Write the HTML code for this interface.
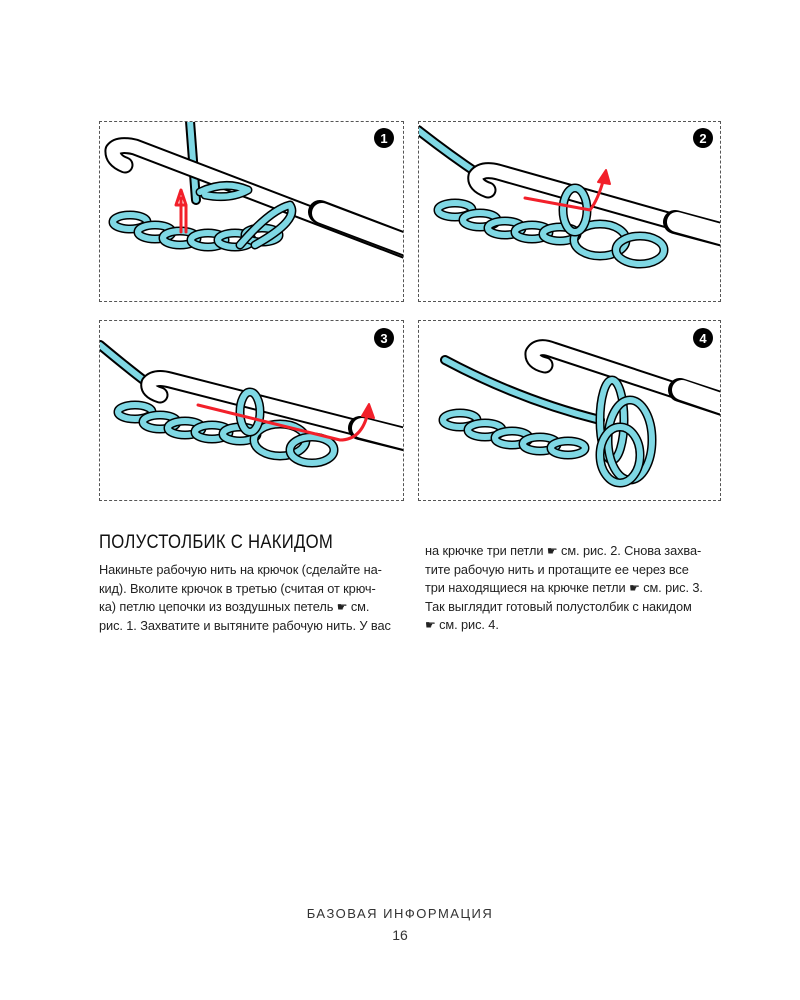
<!DOCTYPE html>
<html><head><meta charset="utf-8"><style>
body{margin:0;background:#fff;width:800px;height:1000px;position:relative;font-family:"Liberation Sans",sans-serif;overflow:hidden}
.p{position:absolute;border:1.5px dashed #555;box-sizing:border-box}
svg{position:absolute;left:0;top:0}
.t{position:absolute;font-size:12.8px;line-height:18.6px;color:#222;white-space:nowrap;letter-spacing:-0.1px}
h1{position:absolute;left:99px;top:532px;margin:0;font-weight:normal;font-size:19px;letter-spacing:0.3px;color:#111;transform:scaleX(0.88);transform-origin:left}
.f{position:absolute;width:800px;text-align:center;color:#333;font-size:13px}
.h{font-family:"DejaVu Sans",sans-serif;font-size:12px}
</style></head><body>
<div class="p" style="left:99px;top:121px;width:305px;height:181px"></div>
<div class="p" style="left:418px;top:121px;width:303px;height:181px"></div>
<div class="p" style="left:99px;top:320px;width:305px;height:181px"></div>
<div class="p" style="left:418px;top:320px;width:303px;height:181px"></div>
<svg width="800" height="1000" viewBox="0 0 800 1000">
<defs>
<g id="chain">
<ellipse cx="0" cy="0" rx="17" ry="7" fill="none" stroke="#000" stroke-width="9"/>
<ellipse cx="0" cy="0" rx="17" ry="7" fill="none" stroke="#7fd8e4" stroke-width="6"/>
</g>
<clipPath id="c1"><rect x="100" y="122" width="303" height="179"/></clipPath>
<clipPath id="c2"><rect x="419" y="122" width="301" height="179"/></clipPath>
<clipPath id="c3"><rect x="100" y="321" width="303" height="179"/></clipPath>
<clipPath id="c4"><rect x="419" y="321" width="301" height="179"/></clipPath>
</defs>
<g stroke-linecap="round" stroke-linejoin="round" fill="none">
<g clip-path="url(#c1)">
<path d="M190 121 L196 200" stroke="#000" stroke-width="10"/><path d="M190 121 L196 200" stroke="#7fd8e4" stroke-width="6"/>
<path d="M125 165 Q112 160 113 150 Q118 143 135 147 L420 256" stroke="#000" stroke-width="17"/>
<path d="M125 165 Q112 160 113 150 Q118 143 135 147 L420 256" stroke="#fff" stroke-width="13"/>
<path d="M320 212 L420 250" stroke="#000" stroke-width="24"/><path d="M322 213 L420 250" stroke="#fff" stroke-width="20"/>
<use href="#chain" x="130" y="222"/><use href="#chain" x="155" y="232"/><use href="#chain" x="180" y="238"/><use href="#chain" x="208" y="240"/><use href="#chain" x="235" y="240"/><use href="#chain" x="262" y="235"/>
<path d="M240 245 Q270 210 290 205 Q300 220 255 245" stroke="#000" stroke-width="9"/><path d="M240 245 Q270 210 290 205 Q300 220 255 245" stroke="#7fd8e4" stroke-width="6"/>
<path d="M200 192 Q225 180 248 190 Q230 200 205 195" stroke="#000" stroke-width="9"/><path d="M200 192 Q225 180 248 190 Q230 200 205 195" stroke="#7fd8e4" stroke-width="6"/>
<path d="M181 232 L181 198 M186 232 L186 205 L176 205 L181 190 L186 205" stroke="#f2202a" stroke-width="3"/>
</g>
<g clip-path="url(#c2)">
<path d="M418 130 Q450 155 480 175" stroke="#000" stroke-width="10"/><path d="M418 130 Q450 155 480 175" stroke="#7fd8e4" stroke-width="6"/>
<path d="M488 190 Q474 185 476 176 Q482 168 498 172 L735 239" stroke="#000" stroke-width="17"/>
<path d="M488 190 Q474 185 476 176 Q482 168 498 172 L735 239" stroke="#fff" stroke-width="13"/>
<path d="M675 222 L735 238" stroke="#000" stroke-width="24"/><path d="M677 222 L735 238" stroke="#fff" stroke-width="20"/>
<use href="#chain" x="455" y="210"/><use href="#chain" x="480" y="220"/><use href="#chain" x="505" y="228"/><use href="#chain" x="532" y="232"/><use href="#chain" x="560" y="234"/>
<ellipse cx="600" cy="240" rx="26" ry="16" stroke="#000" stroke-width="9"/><ellipse cx="600" cy="240" rx="26" ry="16" stroke="#7fd8e4" stroke-width="6"/>
<ellipse cx="640" cy="250" rx="24" ry="14" stroke="#000" stroke-width="9"/><ellipse cx="640" cy="250" rx="24" ry="14" stroke="#7fd8e4" stroke-width="6"/>
<ellipse cx="575" cy="210" rx="12" ry="22" stroke="#000" stroke-width="9"/><ellipse cx="575" cy="210" rx="12" ry="22" stroke="#7fd8e4" stroke-width="6"/>
<path d="M525 198 L590 210 Q598 200 604 178" stroke="#f2202a" stroke-width="3"/><path d="M598 182 L606 170 L610 184 Z" fill="#f2202a" stroke="#f2202a" stroke-width="2"/>
</g>
<g clip-path="url(#c3)">
<path d="M100 345 Q130 370 150 385" stroke="#000" stroke-width="10"/><path d="M100 345 Q130 370 150 385" stroke="#7fd8e4" stroke-width="6"/>
<path d="M160 395 Q147 391 149 383 Q155 376 170 380 L420 444" stroke="#000" stroke-width="17"/>
<path d="M160 395 Q147 391 149 383 Q155 376 170 380 L420 444" stroke="#fff" stroke-width="13"/>
<path d="M360 428 L420 443" stroke="#000" stroke-width="24"/><path d="M362 428 L420 443" stroke="#fff" stroke-width="20"/>
<use href="#chain" x="135" y="412"/><use href="#chain" x="160" y="422"/><use href="#chain" x="185" y="428"/><use href="#chain" x="212" y="432"/><use href="#chain" x="240" y="434"/>
<ellipse cx="280" cy="440" rx="26" ry="16" stroke="#000" stroke-width="9"/><ellipse cx="280" cy="440" rx="26" ry="16" stroke="#7fd8e4" stroke-width="6"/>
<ellipse cx="312" cy="450" rx="22" ry="13" stroke="#000" stroke-width="9"/><ellipse cx="312" cy="450" rx="22" ry="13" stroke="#7fd8e4" stroke-width="6"/>
<ellipse cx="250" cy="412" rx="10" ry="20" stroke="#000" stroke-width="9"/><ellipse cx="250" cy="412" rx="10" ry="20" stroke="#7fd8e4" stroke-width="6"/>
<path d="M198 405 L340 440 Q362 440 368 412" stroke="#f2202a" stroke-width="3"/><path d="M362 416 L369 404 L374 418 Z" fill="#f2202a" stroke="#f2202a" stroke-width="2"/>
</g>
<g clip-path="url(#c4)">
<path d="M445 360 Q520 400 600 420" stroke="#000" stroke-width="10"/><path d="M445 360 Q520 400 600 420" stroke="#7fd8e4" stroke-width="6"/>
<path d="M545 365 Q532 362 533 353 Q538 344 553 350 L735 410" stroke="#000" stroke-width="17"/>
<path d="M545 365 Q532 362 533 353 Q538 344 553 350 L735 410" stroke="#fff" stroke-width="13"/>
<path d="M680 390 L735 408" stroke="#000" stroke-width="24"/><path d="M682 390 L735 408" stroke="#fff" stroke-width="20"/>
<use href="#chain" x="460" y="420"/><use href="#chain" x="485" y="430"/><use href="#chain" x="512" y="438"/><use href="#chain" x="540" y="444"/><use href="#chain" x="568" y="448"/>
<ellipse cx="612" cy="420" rx="12" ry="40" stroke="#000" stroke-width="9"/><ellipse cx="612" cy="420" rx="12" ry="40" stroke="#7fd8e4" stroke-width="6"/>
<ellipse cx="630" cy="440" rx="22" ry="40" stroke="#000" stroke-width="9"/><ellipse cx="630" cy="440" rx="22" ry="40" stroke="#7fd8e4" stroke-width="6"/>
<ellipse cx="620" cy="455" rx="20" ry="28" stroke="#000" stroke-width="9"/><ellipse cx="620" cy="455" rx="20" ry="28" stroke="#7fd8e4" stroke-width="6"/>
</g>
</g>
<g font-family="Liberation Sans" font-weight="bold" font-size="13" fill="#fff" text-anchor="middle">
<circle cx="384" cy="138" r="10" fill="#000"/><text x="384" y="143">1</text>
<circle cx="703" cy="138" r="10" fill="#000"/><text x="703" y="143">2</text>
<circle cx="384" cy="338" r="10" fill="#000"/><text x="384" y="343">3</text>
<circle cx="703" cy="338" r="10" fill="#000"/><text x="703" y="343">4</text>
</g>
</svg>
<h1>ПОЛУСТОЛБИК С НАКИДОМ</h1>
<div class="t" style="left:99px;top:561px">Накиньте рабочую нить на крючок (сделайте на-<br>кид). Вколите крючок в третью (считая от крюч-<br>ка) петлю цепочки из воздушных петель <span class="h">☛</span> см.<br>рис. 1. Захватите и вытяните рабочую нить. У вас</div>
<div class="t" style="left:425px;top:542px">на крючке три петли <span class="h">☛</span> см. рис. 2. Снова захва-<br>тите рабочую нить и протащите ее через все<br>три находящиеся на крючке петли <span class="h">☛</span> см. рис. 3.<br>Так выглядит готовый полустолбик с накидом<br><span class="h">☛</span> см. рис. 4.</div>
<div class="f" style="top:906px;letter-spacing:1.5px">БАЗОВАЯ ИНФОРМАЦИЯ</div>
<div class="f" style="top:927px;font-size:14px">16</div>
</body></html>
